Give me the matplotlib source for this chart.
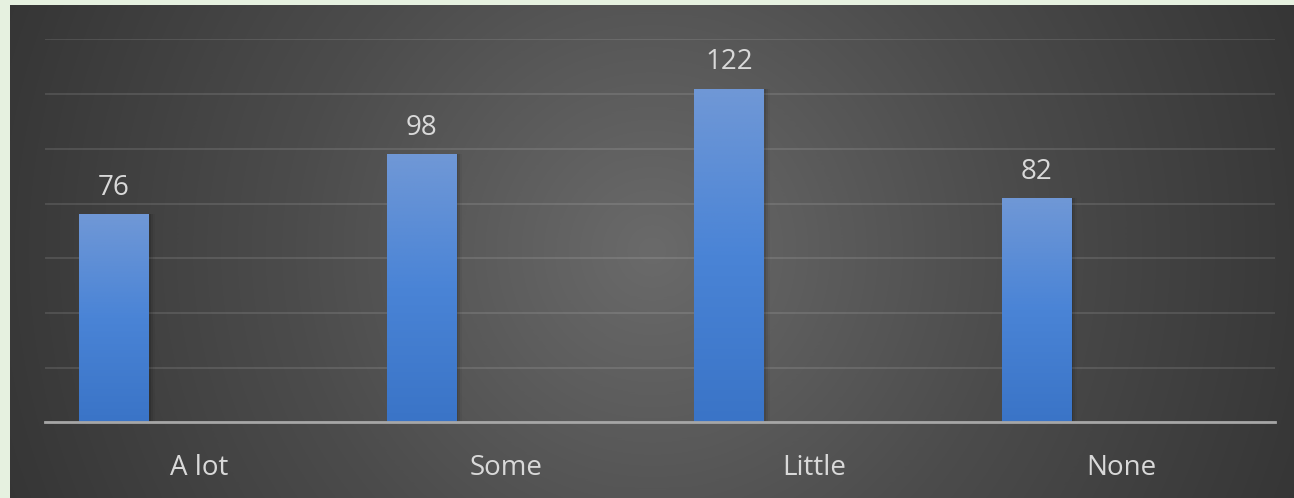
import numpy as np
import matplotlib
matplotlib.use("Agg")
import matplotlib.pyplot as plt
from matplotlib.colors import LinearSegmentedColormap

categories = ["A lot", "Some", "Little", "None"]
values = [76, 98, 122, 82]

W, H = 1294, 498
plt.rcParams['font.family'] = ['Open Sans', 'DejaVu Sans']

fig = plt.figure(figsize=(W / 100, H / 100), dpi=100, facecolor='#e6f1e0')

# dark panel with radial gradient
bg = fig.add_axes([10 / W, 0, (W - 10) / W, (H - 5) / H])
bg.set_axis_off()
yy, xx = np.mgrid[0:493, 0:1284]
r = np.sqrt(((xx - 642) / 750.0) ** 2 + ((yy - 246) / 750.0) ** 2)
r = np.clip(r / 0.95, 0, 1)
bg_cmap = LinearSegmentedColormap.from_list('bg', ['#6a6a6a', '#4c4c4c', '#343434'])
bg.imshow(r, cmap=bg_cmap, aspect='auto', extent=[0, 1, 0, 1], vmin=0, vmax=1)
bg.set_xlim(0, 1)
bg.set_ylim(0, 1)

# plot area
left, right = 45, 1275
top, base = 39.5, 422.3
ax = fig.add_axes([left / W, (H - base) / H, (right - left) / W, (base - top) / H])
ax.patch.set_alpha(0)
ax.set_yticks(np.arange(0, 141, 20))
ax.yaxis.grid(True, color='#ffffff', alpha=0.12, linewidth=1.3)
ax.set_axisbelow(True)
ax.tick_params(axis='y', left=False, labelleft=False)
ax.tick_params(axis='x', bottom=False, colors='#d9d9d9', labelsize=20, pad=19)
for s in ['top', 'right', 'left']:
    ax.spines[s].set_visible(False)
ax.spines['bottom'].set_color('#a6a6a6')
ax.spines['bottom'].set_linewidth(2)
ax.spines['bottom'].set_zorder(5)

x = np.arange(len(categories))
offset = -0.2756
width = 0.2276
ax.set_xticks(x)
ax.set_xticklabels(categories)

# soft shadow
for k, a in enumerate([0.10, 0.07, 0.04]):
    d = 0.004 * (k + 1)
    ax.bar(x + offset + d, values, width=width + d, color='black', alpha=a, zorder=2)

bars = ax.bar(x + offset, values, width=width, color='#4a80d0', zorder=3)
grad_cmap = LinearSegmentedColormap.from_list('bar', ['#3a74c7', '#4a84d6', '#7098d6'])
grad = np.linspace(0, 1, 256).reshape(-1, 1)
for b in bars:
    bx, by = b.get_x(), b.get_y()
    bw, bh = b.get_width(), b.get_height()
    im = ax.imshow(grad, cmap=grad_cmap, aspect='auto', origin='lower',
                   extent=[bx, bx + bw, by, by + bh], zorder=4)
    im.set_clip_path(b)
    ax.annotate(str(int(bh)), (bx + bw / 2, bh), xytext=(0, 9), textcoords='offset points',
                ha='center', va='bottom', color='#d9d9d9', fontsize=20)

ax.set_xlim(-0.5, len(categories) - 0.5)
ax.set_ylim(0, 140)

fig.savefig('out.png', dpi=100, facecolor=fig.get_facecolor())
